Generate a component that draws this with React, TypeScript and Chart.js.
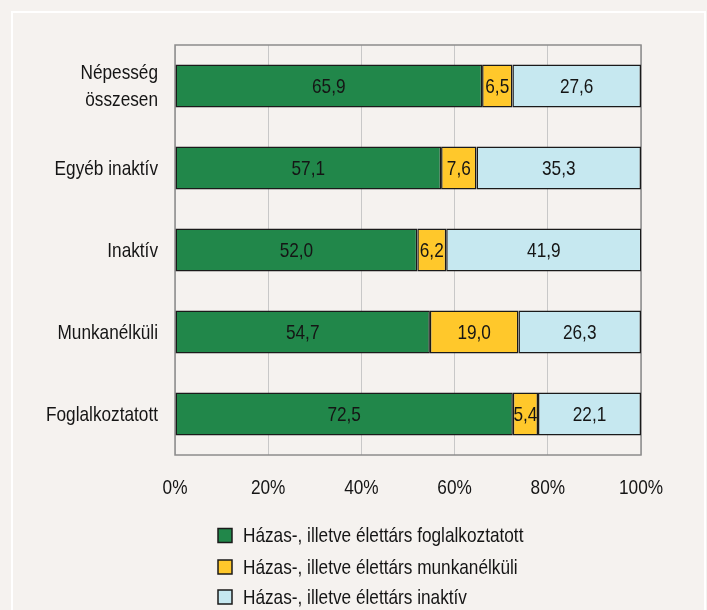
import React, { useEffect, useRef } from "react";
import { Chart, registerables } from "chart.js";

Chart.register(...registerables);

const categories: (string | string[])[] = [
  ["Népesség", "összesen"],
  "Egyéb inaktív",
  "Inaktív",
  "Munkanélküli",
  "Foglalkoztatott",
];
const employed = [65.9, 57.1, 52.0, 54.7, 72.5];
const unemployed = [6.5, 7.6, 6.2, 19.0, 5.4];
const inactive = [27.6, 35.3, 41.9, 26.3, 22.1];
const seriesNames = [
  "Házas-, illetve élettárs foglalkoztatott",
  "Házas-, illetve élettárs munkanélküli",
  "Házas-, illetve élettárs inaktív",
];
const xTicks = [0, 20, 40, 60, 80, 100];

const FONT = "'Liberation Sans', Arial, sans-serif";
const FONT_SIZE = 21;
const NARROW = 0.82;
const TEXT = "#151515";
const colors = ["#21874a", "#ffc82b", "#c6e8f0"];

function narrowText(ctx: CanvasRenderingContext2D, text: string, x: number, y: number, align: CanvasTextAlign) {
  ctx.save();
  ctx.translate(x, y);
  ctx.scale(NARROW, 1);
  ctx.textAlign = align;
  ctx.textBaseline = "middle";
  ctx.fillText(text, 0, 0);
  ctx.restore();
}

const framePlugin = {
  id: "frame",
  beforeDatasetsDraw(chart: any) {
    const { ctx, chartArea: a } = chart;
    ctx.save();
    ctx.strokeStyle = "#8c8c8c";
    ctx.lineWidth = 1.5;
    ctx.strokeRect(a.left, a.top, a.right - a.left, a.bottom - a.top);
    ctx.restore();
  },
};

const labelPlugin = {
  id: "segLabels",
  afterDatasetsDraw(chart: any) {
    const ctx = chart.ctx;
    ctx.save();
    ctx.font = `${FONT_SIZE}px ${FONT}`;
    ctx.fillStyle = TEXT;
    chart.data.datasets.forEach((ds: any, di: number) => {
      const meta = chart.getDatasetMeta(di);
      meta.data.forEach((el: any, i: number) => {
        const v = ds.data[i];
        const c = el.getCenterPoint();
        narrowText(ctx, v.toFixed(1).replace(".", ","), c.x, c.y + 1, "center");
      });
    });
    ctx.restore();
  },
};

const axisTextPlugin = {
  id: "axisText",
  afterDraw(chart: any) {
    const ctx = chart.ctx;
    const xs = chart.scales.x;
    const ys = chart.scales.y;
    ctx.save();
    ctx.font = `${FONT_SIZE}px ${FONT}`;
    ctx.fillStyle = TEXT;
    chart.data.labels.forEach((lab: any, i: number) => {
      const lines = Array.isArray(lab) ? lab : [lab];
      const y = ys.getPixelForValue(i);
      const lh = 27;
      const start = y - ((lines.length - 1) * lh) / 2;
      lines.forEach((t: string, k: number) => narrowText(ctx, t, 158, start + k * lh + 1, "right"));
    });
    xTicks.forEach((v) => {
      narrowText(ctx, v + "%", xs.getPixelForValue(v), 488, "center");
    });
    ctx.restore();
  },
};

const legendPlugin = {
  id: "vLegend",
  afterDraw(chart: any) {
    const ctx = chart.ctx;
    ctx.save();
    const rows = [535.5, 567, 597];
    chart.data.datasets.forEach((ds: any, i: number) => {
      const y = rows[i];
      ctx.fillStyle = ds.backgroundColor;
      ctx.fillRect(218, y - 7, 14, 14);
      ctx.strokeStyle = "#1a1a1a";
      ctx.lineWidth = 1.5;
      ctx.strokeRect(218, y - 7, 14, 14);
      ctx.fillStyle = TEXT;
      ctx.font = `${FONT_SIZE}px ${FONT}`;
      narrowText(ctx, ds.label, 243, y + 1, "left");
    });
    ctx.restore();
  },
};

export default function App() {
  const ref = useRef<HTMLCanvasElement>(null);
  useEffect(() => {
    if (!ref.current) return;
    const seriesData = [employed, unemployed, inactive];
    const chart = new Chart(ref.current, {
      type: "bar",
      data: {
        labels: categories,
        datasets: seriesData.map((d, i) => ({
          label: seriesNames[i],
          data: d,
          backgroundColor: colors[i],
          borderColor: "#1a1a1a",
          borderWidth: 1.5,
          borderSkipped: false,
          barPercentage: 0.524,
          categoryPercentage: 1,
        })),
      },
      options: {
        indexAxis: "y",
        animation: false,
        responsive: false,
        maintainAspectRatio: false,
        layout: { padding: { left: 0, right: 66, top: 45, bottom: 105 } },
        plugins: { legend: { display: false }, tooltip: { enabled: false } },
        scales: {
          x: {
            stacked: true,
            min: 0,
            max: 100,
            afterBuildTicks: (s: any) => {
              s.ticks = xTicks.map((v) => ({ value: v }));
            },
            afterFit: (s: any) => {
              s.height = 50;
            },
            ticks: { display: false },
            grid: { color: "#c8c8c8", lineWidth: 1, drawTicks: false },
            border: { display: false },
          },
          y: {
            stacked: true,
            afterFit: (s: any) => {
              s.width = 175;
            },
            ticks: { display: false },
            grid: { display: false, drawTicks: false },
            border: { display: false },
          },
        },
      },
      plugins: [framePlugin, labelPlugin, axisTextPlugin, legendPlugin],
    });
    return () => chart.destroy();
  }, []);
  return (
    <div
      style={{
        position: "absolute",
        left: 0,
        top: 0,
        width: 707,
        height: 610,
        background: "#f5f2ef",
        overflow: "hidden",
      }}
    >
      <div
        style={{
          position: "absolute",
          left: 11,
          top: 11,
          width: 691,
          height: 640,
          border: "2px solid #ffffff",
        }}
      />
      <canvas ref={ref} width={707} height={610} style={{ position: "absolute", left: 0, top: 0 }} />
    </div>
  );
}
